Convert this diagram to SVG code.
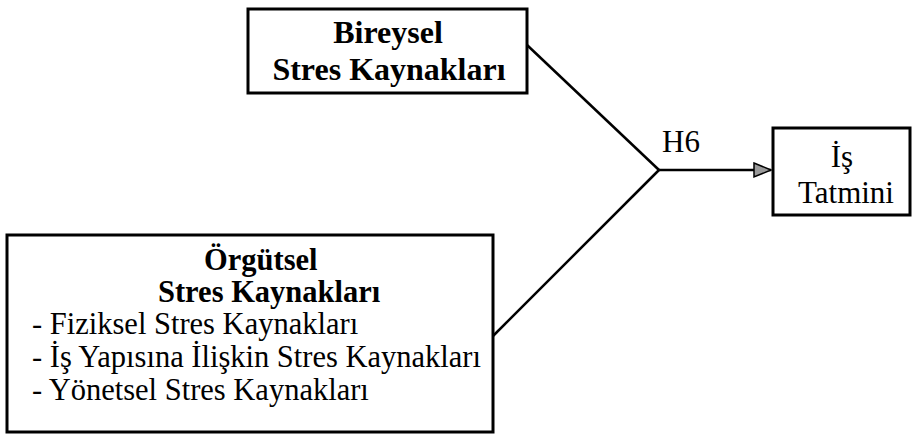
<svg xmlns="http://www.w3.org/2000/svg" width="912" height="434" viewBox="0 0 912 434">
  <style>
    .box { fill: #ffffff; stroke: #000000; stroke-width: 3; }
    .conn { fill: none; stroke: #000000; stroke-width: 2.5; }
    .t { font-family: "Liberation Serif", "Times New Roman", serif; fill: #000000; }
    .b { font-weight: bold; }
  </style>
  <defs>
    <marker id="arrow" markerWidth="20" markerHeight="18" refX="18" refY="9" orient="auto" markerUnits="userSpaceOnUse">
      <path d="M1,2 L18,9 L1,16 Z" fill="#9a9a9a" stroke="#000000" stroke-width="1.5"/>
    </marker>
  </defs>
  <rect width="912" height="434" fill="#ffffff"/>

  <g id="connectors">
    <line class="conn" x1="527" y1="45" x2="659" y2="170"/>
    <line class="conn" x1="493" y1="336" x2="659" y2="170"/>
    <line class="conn" x1="659" y1="170" x2="771" y2="170" marker-end="url(#arrow)"/>
    <text class="t" x="662" y="152" font-size="31">H6</text>
  </g>

  <g id="bireysel">
    <rect class="box" x="248" y="9" width="279" height="84"/>
    <text class="t b" x="388" y="43" font-size="32" text-anchor="middle">Bireysel</text>
    <text class="t b" x="389" y="80" font-size="32" text-anchor="middle">Stres Kaynakları</text>
  </g>

  <g id="orgutsel">
    <rect class="box" x="7" y="235" width="486" height="197"/>
    <text class="t b" x="204" y="270" font-size="30.5">Örgütsel</text>
    <text class="t b" x="158" y="302" font-size="30.5">Stres Kaynakları</text>
    <text class="t" x="32" y="334" font-size="30.5">- Fiziksel Stres Kaynakları</text>
    <text class="t" x="32" y="367" font-size="30.5">- İş Yapısına İlişkin Stres Kaynakları</text>
    <text class="t" x="32" y="400" font-size="30.5">- Yönetsel Stres Kaynakları</text>
  </g>

  <g id="is-tatmini">
    <rect class="box" x="773" y="128" width="137" height="87"/>
    <text class="t" x="842" y="167" font-size="31" text-anchor="middle">İş</text>
    <text class="t" x="846" y="203" font-size="31" text-anchor="middle">Tatmini</text>
  </g>
</svg>
